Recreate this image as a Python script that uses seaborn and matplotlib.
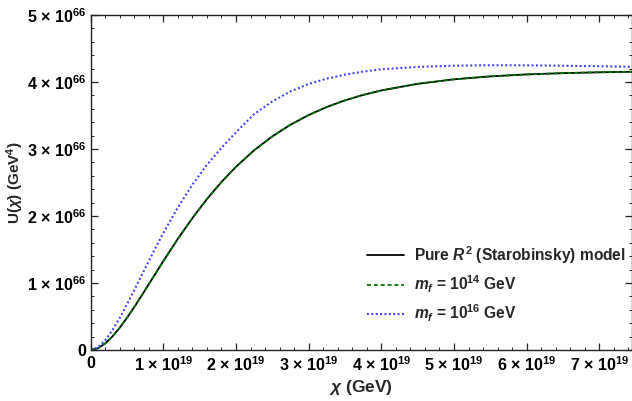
import numpy as np
import pandas as pd
from matplotlib import pyplot as plt
import seaborn as sns

# chi in units of 1e19 GeV, U in units of 1e66 GeV^4
chi_vals = [0, 0.1, 0.2, 0.3, 0.4, 0.5, 0.6, 0.7, 0.8, 0.9, 1.0, 1.2, 1.4, 1.6, 1.8, 2.0,
            2.25, 2.5, 2.75, 3.0, 3.25, 3.5, 3.75, 4.0, 4.5, 5.0, 5.5, 6.0, 6.5, 7.0, 7.45]
u_pure = [0, 0.026, 0.098, 0.203, 0.333, 0.481, 0.642, 0.810, 0.982, 1.155, 1.327, 1.659,
          1.969, 2.253, 2.508, 2.735, 2.981, 3.188, 3.363, 3.507, 3.627, 3.726, 3.807, 3.874,
          3.973, 4.040, 4.084, 4.113, 4.132, 4.145, 4.153]
u_mf14 = [0, 0.026, 0.098, 0.203, 0.333, 0.481, 0.642, 0.810, 0.982, 1.155, 1.327, 1.659,
          1.969, 2.253, 2.508, 2.735, 2.981, 3.188, 3.363, 3.507, 3.627, 3.726, 3.807, 3.874,
          3.973, 4.040, 4.084, 4.113, 4.132, 4.145, 4.153]
u_mf16 = [0, 0.040, 0.145, 0.297, 0.479, 0.682, 0.895, 1.112, 1.329, 1.541, 1.746, 2.128,
          2.468, 2.764, 3.017, 3.25, 3.52, 3.71, 3.86, 3.97, 4.05, 4.11, 4.155, 4.19, 4.225,
          4.243, 4.25, 4.249, 4.243, 4.235, 4.227]

x_ticks = [0, 1, 2, 3, 4, 5, 6, 7]
x_labels = ['0'] + ['%d × 10$^{19}$' % i for i in range(1, 8)]
y_ticks = [0, 1, 2, 3, 4, 5]
y_labels = ['0'] + ['%d × 10$^{66}$' % i for i in range(1, 6)]

df = pd.DataFrame({'chi': chi_vals, 'pure': u_pure, 'mf14': u_mf14, 'mf16': u_mf16})

sns.set_theme(style='ticks')
plt.rcParams['font.family'] = ['Liberation Sans', 'DejaVu Sans']
plt.rcParams['font.weight'] = 'bold'
plt.rcParams['mathtext.fontset'] = 'custom'
plt.rcParams['mathtext.rm'] = 'Liberation Sans:bold'
plt.rcParams['mathtext.bf'] = 'Liberation Sans:bold'
plt.rcParams['mathtext.it'] = 'Liberation Sans:italic:bold'

fig = plt.figure(figsize=(6.32, 4.01), dpi=100)
ax = fig.add_axes([0.1435, 0.1272, 0.8565, 0.8354])

sns.lineplot(data=df, x='chi', y='pure', ax=ax, color='black', lw=1.3,
             estimator=None, sort=False, label=r'Pure $R^2$ (Starobinsky) model')
sns.lineplot(data=df, x='chi', y='mf14', ax=ax, color='#007a00', lw=1.3,
             linestyle=(0, (2.2, 1.6)), estimator=None, sort=False,
             label=r'$m_f$ = 10$^{14}$ GeV')
sns.lineplot(data=df, x='chi', y='mf16', ax=ax, color='#3b3bff', lw=1.5,
             linestyle=(0, (0.9, 1.2)), estimator=None, sort=False,
             label=r'$m_f$ = 10$^{16}$ GeV')

ax.set_xlim(0, 7.45)
ax.set_ylim(0, 5)
ax.set_xticks(x_ticks)
ax.set_xticklabels(x_labels)
ax.set_yticks(y_ticks)
ax.set_yticklabels(y_labels)
ax.set_xticks(np.arange(0, 7.45, 0.2), minor=True)
ax.set_yticks(np.arange(0, 5.01, 0.2), minor=True)
ax.tick_params(which='both', direction='in', top=True, right=True, colors='#222222',
               labelcolor='black', labelsize=11.5)
ax.tick_params(which='major', length=5, width=0.9)
ax.tick_params(which='minor', length=2.5, width=0.7)
ax.tick_params(axis='x', pad=4)
ax.tick_params(axis='y', pad=3)
for s in ax.spines.values():
    s.set_color('#222222')
    s.set_linewidth(1.0)

ax.set_xlabel(r'$\chi$ (GeV)', fontsize=12.5, fontweight='bold', labelpad=3)
ax.set_ylabel(r'U($\chi$) (GeV$^4$)', fontsize=11, fontweight='bold', labelpad=1)

ax.legend(loc='lower left', bbox_to_anchor=(0.51, 0.078), frameon=False,
          handlelength=2.4, handletextpad=0.65, labelspacing=0.5, borderpad=0,
          borderaxespad=0, prop={'weight': 'bold', 'size': 11.2})

fig.savefig('out.png', dpi=100)
